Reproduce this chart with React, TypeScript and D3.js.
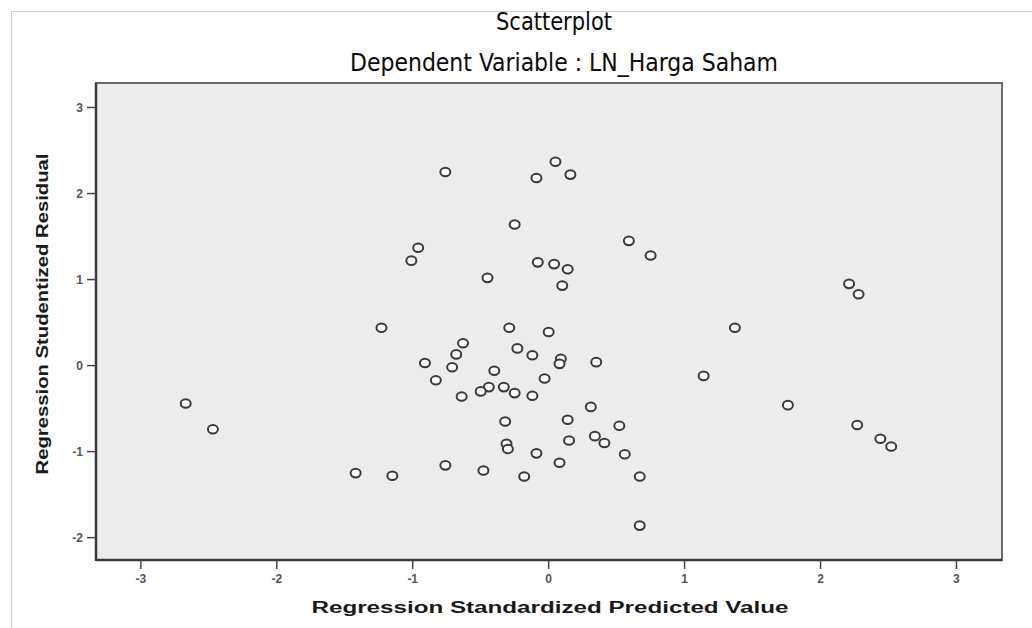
import React from "react";
import * as d3 from "d3";

// Regression Standardized Predicted Value (x) and Studentized Residual (y)
const predicted = [
  -0.76, 0.05, -0.09, 0.16, -0.25, -0.96, -1.01, -0.45, -0.08, 0.04, 0.14, 0.1, 0.59, 0.75,
  2.21, 2.28,
  -1.23, -2.67, -2.47, -1.42, -1.15,
  -0.29, 0.0, -0.63, -0.68, -0.23, -0.12, -0.91, -0.71, 0.09, 0.08, 0.35, -0.4, -0.83,
  -0.03, -0.44, -0.5, -0.33, -0.25, -0.12, -0.64, 1.14, 0.31, -0.32, 0.14, 0.52, 0.34,
  0.41, 0.15, -0.31, -0.3, -0.09, 0.56, 0.08, -0.76, -0.48, -0.18, 0.67, 0.67,
  1.37, 1.76, 2.27, 2.44, 2.52,
];
const residual = [
  2.25, 2.37, 2.18, 2.22, 1.64, 1.37, 1.22, 1.02, 1.2, 1.18, 1.12, 0.93, 1.45, 1.28,
  0.95, 0.83,
  0.44, -0.44, -0.74, -1.25, -1.28,
  0.44, 0.39, 0.26, 0.13, 0.2, 0.12, 0.03, -0.02, 0.08, 0.02, 0.04, -0.06, -0.17,
  -0.15, -0.25, -0.3, -0.25, -0.32, -0.35, -0.36, -0.12, -0.48, -0.65, -0.63, -0.7, -0.82,
  -0.9, -0.87, -0.91, -0.97, -1.02, -1.03, -1.13, -1.16, -1.22, -1.29, -1.29, -1.86,
  0.44, -0.46, -0.69, -0.85, -0.94,
];
const xTicks = [-3, -2, -1, 0, 1, 2, 3];
const yTicks = [-2, -1, 0, 1, 2, 3];

const W = 1032;
const H = 628;
const plot = { left: 96, top: 83, right: 1002, bottom: 560 };

export default function App() {
  const x = d3.scaleLinear().domain([-3.33, 3.335]).range([plot.left, plot.right]);
  const y = d3.scaleLinear().domain([-2.26, 3.285]).range([plot.bottom, plot.top]);
  const pts = d3.zip(predicted, residual);

  return (
    <svg
      width={W}
      height={H}
      style={{ position: "absolute", left: 0, top: 0, background: "#fff" }}
    >
      {/* outer frame */}
      <rect x={11.5} y={11.5} width={W} height={H} fill="none" stroke="#cfcfcf" strokeWidth={1} />

      {/* titles */}
      <g fontFamily="'Liberation Sans Narrow', 'DejaVu Sans Condensed', 'Open Sans', sans-serif" fill="#0a0a0a">
        <text x={554} y={30} textAnchor="middle" fontSize={24} textLength={116} lengthAdjust="spacingAndGlyphs">
          Scatterplot
        </text>
        <text x={564} y={71} textAnchor="middle" fontSize={24} textLength={428} lengthAdjust="spacingAndGlyphs">
          Dependent Variable : LN_Harga Saham
        </text>
      </g>

      {/* plot area */}
      <rect
        x={plot.left}
        y={plot.top}
        width={plot.right - plot.left}
        height={plot.bottom - plot.top}
        fill="#ececec"
        stroke="#6a6a6a"
        strokeWidth={2}
      />
      <line x1={plot.left} x2={plot.left} y1={plot.top} y2={plot.bottom + 1} stroke="#3a3a3a" strokeWidth={2.5} />
      <line x1={plot.left} x2={plot.right} y1={plot.bottom} y2={plot.bottom} stroke="#3a3a3a" strokeWidth={2.5} />

      {/* y axis */}
      <g fontFamily="'Liberation Sans', Arial, sans-serif" fontWeight="bold" fontSize={12} fill="#555">
        {yTicks.map((t) => (
          <g key={t}>
            <line x1={plot.left - 9} x2={plot.left} y1={y(t)} y2={y(t)} stroke="#444" strokeWidth={1.5} />
            <text x={plot.left - 13} y={y(t)} dy="0.35em" textAnchor="end">
              {t}
            </text>
          </g>
        ))}
      </g>

      {/* x axis */}
      <g fontFamily="'Liberation Sans', Arial, sans-serif" fontWeight="bold" fontSize={12} fill="#555">
        {xTicks.map((t) => (
          <g key={t}>
            <line x1={x(t)} x2={x(t)} y1={plot.bottom} y2={plot.bottom + 9} stroke="#444" strokeWidth={1.5} />
            <text x={x(t)} y={plot.bottom + 23} textAnchor="middle">
              {t}
            </text>
          </g>
        ))}
      </g>

      {/* axis titles */}
      <text
        x={550}
        y={613}
        textAnchor="middle"
        fontFamily="'Liberation Sans', Arial, sans-serif"
        fontWeight="bold"
        fontSize={16}
        fill="#1a1a1a"
        textLength={477}
        lengthAdjust="spacingAndGlyphs"
      >
        Regression Standardized Predicted Value
      </text>
      <text
        transform={`translate(48,314) rotate(-90)`}
        textAnchor="middle"
        fontFamily="'Liberation Sans', Arial, sans-serif"
        fontWeight="bold"
        fontSize={16}
        fill="#1a1a1a"
        textLength={321}
        lengthAdjust="spacingAndGlyphs"
      >
        Regression Studentized Residual
      </text>

      {/* points */}
      {pts.map(([px, py], i) => (
        <ellipse
          key={i}
          cx={x(px)}
          cy={y(py)}
          rx={5}
          ry={4.3}
          fill="#fafafa"
          stroke="#3a3a3a"
          strokeWidth={2}
        />
      ))}
    </svg>
  );
}
